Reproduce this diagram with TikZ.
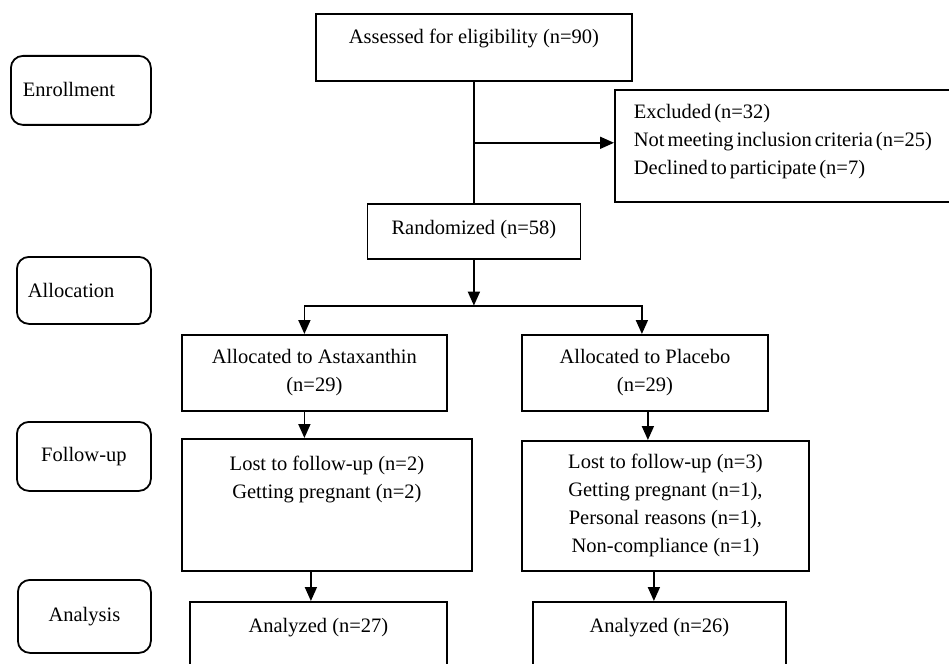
\documentclass[tikz,border=0pt]{standalone}
\usepackage{fontspec}
\setmainfont{Liberation Serif}
\usetikzlibrary{arrows.meta, positioning}

\begin{document}
\begin{tikzpicture}[
    x=1pt, y=-1pt,
    line width=1.8pt,
    font=\fontsize{20.5}{28}\selectfont,
    box/.style={rectangle, draw, inner sep=0pt, align=center, anchor=north west},
    stage/.style={box, rounded corners=12pt},
    arrow/.style={-{Triangle[length=14pt, width=12pt]}}
]
\useasboundingbox (0,0) rectangle (949,663);
\clip (0,0) rectangle (949,663);

\node[stage, align=left, inner xsep=12pt, text width=116pt, text height=41pt, text depth=28pt] (enroll) at (10,55) {Enrollment};
\node[stage, align=left, inner xsep=11pt, text width=112pt, text height=41pt, text depth=26pt] (alloc) at (16,256) {Allocation};
\node[stage, minimum width=134pt, text height=40pt, text depth=29pt] (follow) at (16,421) {Follow-up};
\node[stage, minimum width=133pt, text height=42pt, text depth=31pt] (analysis) at (17,579) {Analysis};

\node[box, minimum width=316pt, text height=30pt, text depth=37pt] (assessed) at (315,13) {Assessed for eligibility (n=90)};
\node[box, align=left, inner xsep=19pt, text width=340pt, minimum height=112pt] (excluded) at (614,89)
    {\spaceskip=3pt\relax Excluded (n=32)\\Not meeting inclusion criteria (n=25)\\Declined to participate (n=7)\\[-14pt]\mbox{}};
\node[box, anchor=north, below=121pt of assessed, minimum width=213pt, text height=31pt, text depth=24pt] (randomized) {Randomized (n=58)};

\node[box, minimum width=265pt, minimum height=76pt] (astaxanthin) at (181,334) {Allocated to Astaxanthin\\(n=29)};
\node[box, minimum width=246pt, minimum height=76pt] (placebo) at (521,334) {Allocated to Placebo\\(n=29)};
\node[box, minimum width=290pt, minimum height=132pt] (lostastax) at (181,438)
    {Lost to follow-up (n=2)\\Getting pregnant (n=2)\\\mbox{}\\\mbox{}};
\node[box, minimum width=287pt, minimum height=130pt] (lostplacebo) at (521,440)
    {Lost to follow-up (n=3)\\Getting pregnant (n=1),\\Personal reasons (n=1),\\Non-compliance (n=1)};
\node[box, minimum width=257pt, text height=31pt, text depth=50pt] (analyzedastax) at (189,601) {Analyzed (n=27)};
\node[box, minimum width=253pt, text height=31pt, text depth=50pt] (analyzedplacebo) at (532,601) {Analyzed (n=26)};

\coordinate (branch) at ([yshift=-61pt]assessed.south);
\coordinate (fork) at ([yshift=-46pt]randomized.south);

\draw (assessed.south) -- (assessed.south |- randomized.north);
\draw[arrow] (branch) -- (branch -| excluded.west);
\draw[arrow] (randomized.south) -- (fork);
\draw[arrow] (fork) -| ([xshift=-10pt]astaxanthin.north);
\draw[arrow] (fork) -| ([xshift=-3pt]placebo.north);
\draw[arrow] ([xshift=-10pt]astaxanthin.south) -- ([xshift=-10pt]astaxanthin.south |- lostastax.north);
\draw[arrow] ([xshift=3pt]placebo.south) -- ([xshift=3pt]placebo.south |- lostplacebo.north);
\draw[arrow] ([xshift=-16pt]lostastax.south) -- ([xshift=-16pt]lostastax.south |- analyzedastax.north);
\draw[arrow] ([xshift=-11.5pt]lostplacebo.south) -- ([xshift=-11.5pt]lostplacebo.south |- analyzedplacebo.north);
\end{tikzpicture}
\end{document}
